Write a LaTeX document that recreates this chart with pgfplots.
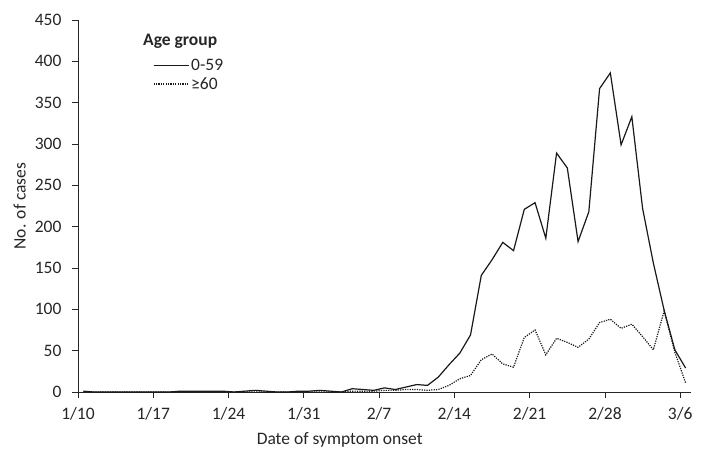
\documentclass[border=0pt]{standalone}
\usepackage{fontspec}
\setmainfont{Carlito}
\usepackage{pgfplots}
\pgfplotsset{compat=1.18}
\usepackage{pgfplotstable}
\pgfplotstableread{
x young old
0.5 1 0
1.5 0 0
2.5 0 0
3.5 0 0
4.5 0 0
5.5 0 0
6.5 0 0
7.5 0 0
8.5 0 0
9.5 1 0
10.5 1 0
11.5 1 0
12.5 1 0
13.5 1 0
14.5 0 0
15.5 1 0
16.5 2 0
17.5 1 0
18.5 0 0
19.5 0 0
20.5 1 0
21.5 1 0
22.5 2 0
23.5 1 0
24.5 0 0
25.5 4 1
26.5 3 1
27.5 2 1
28.5 5 2
29.5 3 2
30.5 6 3
31.5 9 3
32.5 8 2
33.5 18 3
34.5 33 8
35.5 47 16
36.5 69 20
37.5 141 39
38.5 160 46
39.5 181 34
40.5 171 30
41.5 221 66
42.5 229 75
43.5 186 45
44.5 289 65
45.5 271 60
46.5 182 54
47.5 218 64
48.5 367 84
49.5 386 88
50.5 299 77
51.5 333 82
52.5 222 67
53.5 156 51
54.5 99 98
55.5 51 48
56.5 29 11
}\cases
\definecolor{txt}{HTML}{262626}
\begin{document}
\begin{tikzpicture}
\begin{axis}[
  name=ax,
  scale only axis,
  width=613pt, height=372pt,
  xmin=0, xmax=57, ymin=0, ymax=450,
  axis lines=left,
  axis line style={-, black!85, line width=0.9pt},
  tick align=outside,
  tick style={black!85, line width=0.9pt},
  major tick length=6pt,
  xtick={0,7,14,21,28,35,42,49,56},
  xticklabels={1/10,1/17,1/24,1/31,2/7,2/14,2/21,2/28,3/6},
  ytick={0,50,...,450},
  /pgf/number format/assume math mode=true,
  ticklabel style={font=\fontsize{17.5}{20}\selectfont, text=txt},
  yticklabel style={xshift=-7pt},
  xticklabel style={yshift=-6pt},
  xlabel={Date of symptom onset},
  ylabel={No. of cases},
  every axis x label/.style={at={(axis description cs:0.427,-0.129)}, anchor=center, font=\fontsize{17.5}{20}\selectfont, text=txt},
  every axis y label/.style={at={(axis description cs:-0.095,0.5)}, rotate=90, anchor=center, font=\fontsize{17.5}{20}\selectfont, text=txt},
  legend style={draw=none, fill=none, at={(axis description cs:0.122,0.9)}, anchor=north west,
    font=\fontsize{17.5}{20}\selectfont, text=txt, inner sep=0pt, row sep=1pt,
    /tikz/every odd column/.append style={column sep=0pt}},
  legend cell align=left,
  legend image code/.code={\draw[#1] (0pt,0pt) -- (35pt,0pt);},
  clip=false,
]
\addplot[black!90, line width=1.2pt] table[x=x, y=young] {\cases};
\addlegendentry{0-59}
\addplot[black!90, line width=1.2pt, dash pattern=on 1.2pt off 1.2pt] table[x=x, y=old] {\cases};
\addlegendentry{≥60}
\node[anchor=west, font=\bfseries\fontsize{17.5}{20}\selectfont, text=txt, inner sep=0pt] at (axis description cs:0.106,0.9435) {Age group};
\end{axis}
\pgfresetboundingbox
\path ([shift={(-78pt,-75pt)}]ax.south west) rectangle ([shift={(635pt,392pt)}]ax.south west);
\end{tikzpicture}
\end{document}
